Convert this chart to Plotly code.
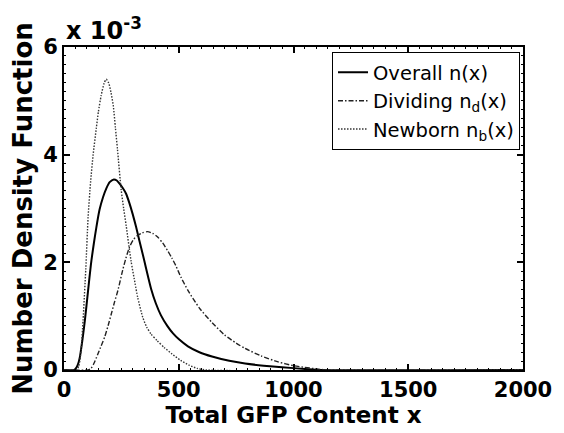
import plotly.graph_objects as go

# Total GFP content x (a.u.) and number density values (in units of 1e-3)
overall_x = [0, 45, 55, 62, 69, 80, 91, 105, 117, 130, 141, 155, 170, 185, 199, 217, 230,
             242, 256, 271, 285, 299, 314, 328, 342, 357, 380, 400, 422, 450, 475, 501,
             540, 590, 645, 720, 789, 870, 950, 1050, 1120, 2000]
overall_n = [0, 0, 0.05, 0.12, 0.24, 0.55, 0.92, 1.48, 1.95, 2.35, 2.65, 2.98, 3.21, 3.38,
             3.49, 3.54, 3.52, 3.46, 3.38, 3.27, 3.10, 2.90, 2.66, 2.41, 2.17, 1.90, 1.50,
             1.24, 1.02, 0.82, 0.68, 0.57, 0.44, 0.33, 0.25, 0.17, 0.12, 0.08, 0.05, 0.02,
             0, 0]

dividing_x = [0, 105, 118, 130, 148, 162, 177, 192, 206, 220, 235, 256, 270, 285, 302, 321,
              342, 364, 386, 408, 430, 451, 470, 487, 510, 540, 590, 645, 700, 750, 789,
              860, 933, 1000, 1048, 1100, 1150, 2000]
dividing_n = [0, 0, 0.03, 0.12, 0.30, 0.45, 0.61, 0.82, 1.04, 1.26, 1.48, 1.86, 2.08, 2.28,
              2.42, 2.50, 2.55, 2.57, 2.54, 2.47, 2.36, 2.22, 2.08, 1.94, 1.72, 1.48, 1.15,
              0.88, 0.65, 0.50, 0.40, 0.26, 0.15, 0.08, 0.05, 0.02, 0, 0]

newborn_x = [0, 55, 65, 75, 83, 95, 105, 116, 127, 141, 150, 162, 175, 184, 195, 205, 215,
             224, 233, 249, 260, 271, 292, 310, 321, 343, 360, 379, 405, 436, 470, 508,
             545, 580, 620, 2000]
newborn_n = [0, 0, 0.08, 0.40, 0.92, 1.88, 2.84, 3.50, 4.00, 4.50, 4.80, 5.10, 5.33, 5.40,
             5.33, 5.15, 4.90, 4.50, 4.10, 3.35, 3.00, 2.68, 2.03, 1.60, 1.35, 0.98, 0.80,
             0.67, 0.55, 0.42, 0.30, 0.18, 0.09, 0.03, 0, 0]

x_ticks = [0, 500, 1000, 1500, 2000]
y_ticks = [0, 2, 4, 6]

fig = go.Figure()
fig.add_trace(go.Scatter(
    x=overall_x, y=overall_n, mode="lines", name="Overall n(x)",
    line=dict(color="black", width=2, shape="spline", smoothing=0.6)))
fig.add_trace(go.Scatter(
    x=dividing_x, y=dividing_n, mode="lines", name="Dividing n<sub>d</sub>(x)",
    line=dict(color="#222222", width=1.4, dash="5px,2px,1.5px,2px",
              shape="spline", smoothing=0.6)))
fig.add_trace(go.Scatter(
    x=newborn_x, y=newborn_n, mode="lines", name="Newborn n<sub>b</sub>(x)",
    line=dict(color="#333333", width=1.4, dash="1.5px,1.5px",
              shape="spline", smoothing=0.6)))

bold = dict(family="DejaVu Sans", color="black", weight="bold")

axis_common = dict(
    showline=True, linecolor="black", linewidth=2, mirror="ticks",
    ticks="inside", ticklen=6, tickwidth=1.5, tickcolor="black",
    showgrid=False, zeroline=False,
    tickfont=dict(size=21, **bold),
)

fig.update_xaxes(
    range=[0, 2000], tickvals=x_ticks, ticktext=[str(v) for v in x_ticks],
    minor=dict(ticks="inside", ticklen=2, tickwidth=1, dtick=50, tickcolor="black"),
    title=dict(text="Total GFP Content x", font=dict(size=23, **bold), standoff=2),
    **axis_common)
fig.update_yaxes(
    range=[0, 6], tickvals=y_ticks, ticktext=[str(v) for v in y_ticks],
    minor=dict(ticks="inside", ticklen=2, tickwidth=1, dtick=1 / 6, tickcolor="black"),
    title=dict(text="Number Density Function", font=dict(size=26, **bold), standoff=3),
    **axis_common)

# exponent label for the y axis scale
fig.add_annotation(
    xref="paper", yref="paper", x=0, y=1, xanchor="left", yanchor="bottom",
    xshift=0, yshift=0, showarrow=False,
    text="x 10<sup>-3</sup>", font=dict(size=24, **bold))

fig.update_layout(
    width=564, height=433,
    margin=dict(l=64, r=37, t=47, b=63),
    paper_bgcolor="white", plot_bgcolor="white",
    showlegend=True,
    legend=dict(
        x=0.9935, y=0.984, xanchor="right", yanchor="top",
        bgcolor="white", bordercolor="black", borderwidth=1,
        font=dict(family="DejaVu Sans", size=19.5, color="black"),
        itemwidth=30, tracegroupgap=0,
    ),
)

fig.write_html("out.html")
